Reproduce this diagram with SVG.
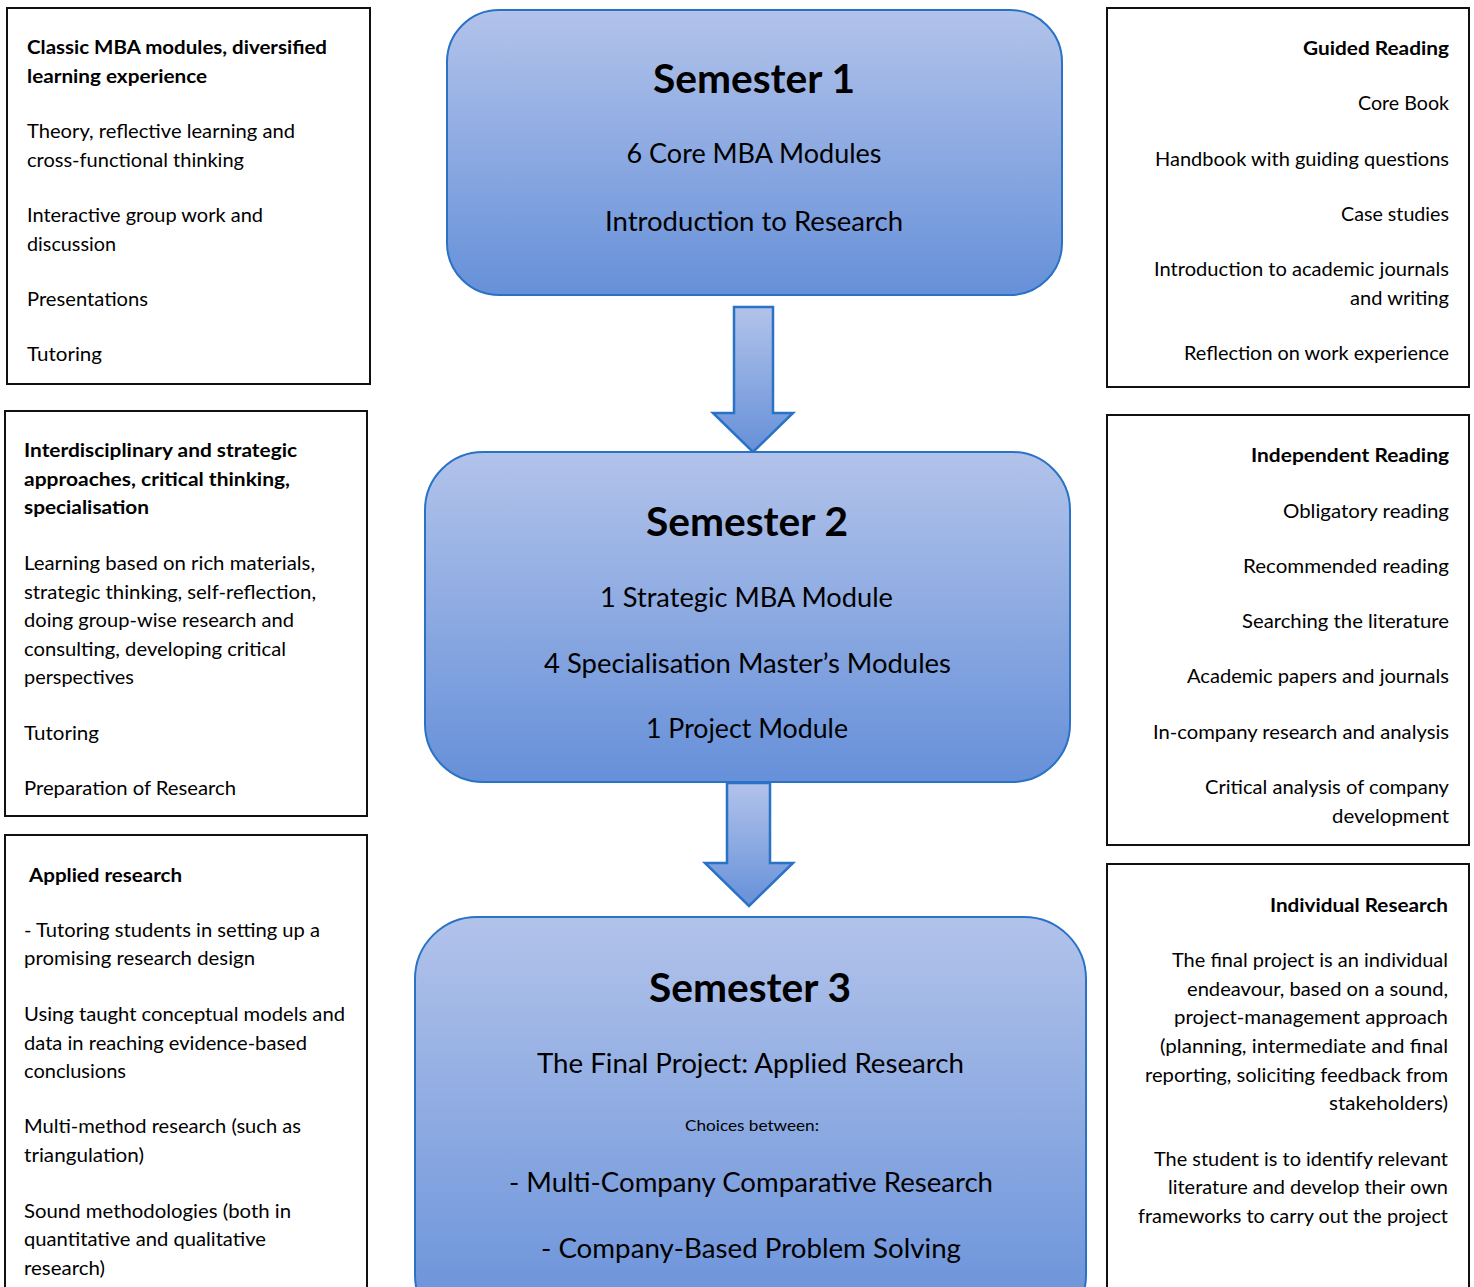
<svg xmlns="http://www.w3.org/2000/svg" width="1474" height="1287" viewBox="0 0 1474 1287">
<defs>
<linearGradient id="blue" x1="0" y1="0" x2="0" y2="1">
<stop offset="0" stop-color="#b2c3ea"/>
<stop offset="1" stop-color="#6690d9"/>
</linearGradient>
<style>
.side{fill:#fff;stroke:#111;stroke-width:2}
.sem{fill:url(#blue);stroke:#2a72c6;stroke-width:2}
.arrow{fill:url(#blue);stroke:#2a72c6;stroke-width:2.5;stroke-linejoin:miter}
text{font-family:Lato,"Open Sans","Liberation Sans",sans-serif;fill:#000}
.t{font-size:19px}
.b{font-size:19px;font-weight:bold}
.r{text-anchor:end}
.c{text-anchor:middle}
.h{font-size:40px;font-weight:bold}
.m{font-size:26px}
.s{font-size:16px}
</style>
</defs>
<rect width="1474" height="1287" fill="#fff"/>

<g id="connectors">
<path class="arrow" d="M734,307 L773,307 L773,413 L793,413 L753,452 L713,413 L734,413 Z"/>
<path class="arrow" d="M727,783 L770,783 L770,863 L793,863 L749,906 L705,863 L727,863 Z"/>
</g>

<g id="semester1">
<rect class="sem" x="447" y="10" width="615" height="285" rx="52"/>
<text class="h c" x="754" y="93" textLength="202" lengthAdjust="spacingAndGlyphs">Semester 1</text>
<text class="m c" x="754" y="163" textLength="255" lengthAdjust="spacingAndGlyphs">6 Core MBA Modules</text>
<text class="m c" x="754" y="231" textLength="298" lengthAdjust="spacingAndGlyphs">Introduction to Research</text>
</g>

<g id="semester2">
<rect class="sem" x="425" y="452" width="645" height="330" rx="58"/>
<text class="h c" x="747" y="536" textLength="202" lengthAdjust="spacingAndGlyphs">Semester 2</text>
<text class="m c" x="746.5" y="607" textLength="293" lengthAdjust="spacingAndGlyphs">1 Strategic MBA Module</text>
<text class="m c" x="747.5" y="673" textLength="407" lengthAdjust="spacingAndGlyphs">4 Specialisation Master’s Modules</text>
<text class="m c" x="747" y="738" textLength="202" lengthAdjust="spacingAndGlyphs">1 Project Module</text>
</g>

<g id="semester3">
<rect class="sem" x="415" y="917" width="671" height="420" rx="62"/>
<text class="h c" x="750" y="1002" textLength="202" lengthAdjust="spacingAndGlyphs">Semester 3</text>
<text class="m c" x="750.5" y="1073" textLength="427" lengthAdjust="spacingAndGlyphs">The Final Project: Applied Research</text>
<text class="s c" x="752" y="1131" textLength="134" lengthAdjust="spacingAndGlyphs">Choices between:</text>
<text class="m c" x="751" y="1192" textLength="484" lengthAdjust="spacingAndGlyphs">- Multi-Company Comparative Research</text>
<text class="m c" x="751" y="1258" textLength="420" lengthAdjust="spacingAndGlyphs">- Company-Based Problem Solving</text>
</g>

<g id="left1">
<rect class="side" x="7" y="8" width="363" height="376"/>
<text class="b" x="27" y="54" textLength="300" lengthAdjust="spacingAndGlyphs">Classic MBA modules, diversified</text>
<text class="b" x="27" y="83" textLength="180" lengthAdjust="spacingAndGlyphs">learning experience</text>
<text class="t" x="27" y="138" textLength="268" lengthAdjust="spacingAndGlyphs">Theory, reflective learning and</text>
<text class="t" x="27" y="167" textLength="217" lengthAdjust="spacingAndGlyphs">cross-functional thinking</text>
<text class="t" x="27" y="222" textLength="236" lengthAdjust="spacingAndGlyphs">Interactive group work and</text>
<text class="t" x="27" y="251" textLength="89" lengthAdjust="spacingAndGlyphs">discussion</text>
<text class="t" x="27" y="306" textLength="121" lengthAdjust="spacingAndGlyphs">Presentations</text>
<text class="t" x="27" y="361" textLength="75" lengthAdjust="spacingAndGlyphs">Tutoring</text>
</g>

<g id="left2">
<rect class="side" x="5" y="411" width="362" height="405"/>
<text class="b" x="24" y="457" textLength="273" lengthAdjust="spacingAndGlyphs">Interdisciplinary and strategic</text>
<text class="b" x="24" y="486" textLength="266" lengthAdjust="spacingAndGlyphs">approaches, critical thinking,</text>
<text class="b" x="24" y="514" textLength="125" lengthAdjust="spacingAndGlyphs">specialisation</text>
<text class="t" x="24" y="570" textLength="291" lengthAdjust="spacingAndGlyphs">Learning based on rich materials,</text>
<text class="t" x="24" y="599" textLength="292" lengthAdjust="spacingAndGlyphs">strategic thinking, self-reflection,</text>
<text class="t" x="24" y="627" textLength="270" lengthAdjust="spacingAndGlyphs">doing group-wise research and</text>
<text class="t" x="24" y="656" textLength="262" lengthAdjust="spacingAndGlyphs">consulting, developing critical</text>
<text class="t" x="24" y="684" textLength="110" lengthAdjust="spacingAndGlyphs">perspectives</text>
<text class="t" x="24" y="740" textLength="75" lengthAdjust="spacingAndGlyphs">Tutoring</text>
<text class="t" x="24" y="795" textLength="212" lengthAdjust="spacingAndGlyphs">Preparation of Research</text>
</g>

<g id="left3">
<rect class="side" x="5" y="835" width="362" height="470"/>
<text class="b" x="29" y="882" textLength="153" lengthAdjust="spacingAndGlyphs">Applied research</text>
<text class="t" x="24" y="937" textLength="296" lengthAdjust="spacingAndGlyphs">- Tutoring students in setting up a</text>
<text class="t" x="24" y="965" textLength="231" lengthAdjust="spacingAndGlyphs">promising research design</text>
<text class="t" x="24" y="1021" textLength="321" lengthAdjust="spacingAndGlyphs">Using taught conceptual models and</text>
<text class="t" x="24" y="1050" textLength="283" lengthAdjust="spacingAndGlyphs">data in reaching evidence-based</text>
<text class="t" x="24" y="1078" textLength="102" lengthAdjust="spacingAndGlyphs">conclusions</text>
<text class="t" x="24" y="1133" textLength="277" lengthAdjust="spacingAndGlyphs">Multi-method research (such as</text>
<text class="t" x="24" y="1162" textLength="120" lengthAdjust="spacingAndGlyphs">triangulation)</text>
<text class="t" x="24" y="1218" textLength="267" lengthAdjust="spacingAndGlyphs">Sound methodologies (both in</text>
<text class="t" x="24" y="1246" textLength="242" lengthAdjust="spacingAndGlyphs">quantitative and qualitative</text>
<text class="t" x="24" y="1275" textLength="81" lengthAdjust="spacingAndGlyphs">research)</text>
</g>

<g id="right1">
<rect class="side" x="1107" y="8" width="362" height="379"/>
<text class="b r" x="1449" y="55" textLength="146" lengthAdjust="spacingAndGlyphs">Guided Reading</text>
<text class="t r" x="1449" y="110" textLength="91" lengthAdjust="spacingAndGlyphs">Core Book</text>
<text class="t r" x="1449" y="166" textLength="294" lengthAdjust="spacingAndGlyphs">Handbook with guiding questions</text>
<text class="t r" x="1449" y="221" textLength="108" lengthAdjust="spacingAndGlyphs">Case studies</text>
<text class="t r" x="1449" y="276" textLength="295" lengthAdjust="spacingAndGlyphs">Introduction to academic journals</text>
<text class="t r" x="1449" y="305" textLength="99" lengthAdjust="spacingAndGlyphs">and writing</text>
<text class="t r" x="1449" y="360" textLength="265" lengthAdjust="spacingAndGlyphs">Reflection on work experience</text>
</g>

<g id="right2">
<rect class="side" x="1107" y="415" width="362" height="430"/>
<text class="b r" x="1449" y="462" textLength="198" lengthAdjust="spacingAndGlyphs">Independent Reading</text>
<text class="t r" x="1449" y="518" textLength="166" lengthAdjust="spacingAndGlyphs">Obligatory reading</text>
<text class="t r" x="1449" y="573" textLength="206" lengthAdjust="spacingAndGlyphs">Recommended reading</text>
<text class="t r" x="1449" y="628" textLength="207" lengthAdjust="spacingAndGlyphs">Searching the literature</text>
<text class="t r" x="1449" y="683" textLength="262" lengthAdjust="spacingAndGlyphs">Academic papers and journals</text>
<text class="t r" x="1449" y="739" textLength="296" lengthAdjust="spacingAndGlyphs">In-company research and analysis</text>
<text class="t r" x="1449" y="794" textLength="244" lengthAdjust="spacingAndGlyphs">Critical analysis of company</text>
<text class="t r" x="1449" y="823" textLength="117" lengthAdjust="spacingAndGlyphs">development</text>
</g>

<g id="right3">
<rect class="side" x="1107" y="864" width="362" height="440"/>
<text class="b r" x="1448" y="912" textLength="178" lengthAdjust="spacingAndGlyphs">Individual Research</text>
<text class="t r" x="1448" y="967" textLength="276" lengthAdjust="spacingAndGlyphs">The final project is an individual</text>
<text class="t r" x="1448" y="996" textLength="261" lengthAdjust="spacingAndGlyphs">endeavour, based on a sound,</text>
<text class="t r" x="1448" y="1024" textLength="274" lengthAdjust="spacingAndGlyphs">project-management approach</text>
<text class="t r" x="1448" y="1053" textLength="288" lengthAdjust="spacingAndGlyphs">(planning, intermediate and final</text>
<text class="t r" x="1448" y="1082" textLength="303" lengthAdjust="spacingAndGlyphs">reporting, soliciting feedback from</text>
<text class="t r" x="1448" y="1110" textLength="119" lengthAdjust="spacingAndGlyphs">stakeholders)</text>
<text class="t r" x="1448" y="1166" textLength="294" lengthAdjust="spacingAndGlyphs">The student is to identify relevant</text>
<text class="t r" x="1448" y="1194" textLength="280" lengthAdjust="spacingAndGlyphs">literature and develop their own</text>
<text class="t r" x="1448" y="1223" textLength="310" lengthAdjust="spacingAndGlyphs">frameworks to carry out the project</text>
</g>
</svg>
